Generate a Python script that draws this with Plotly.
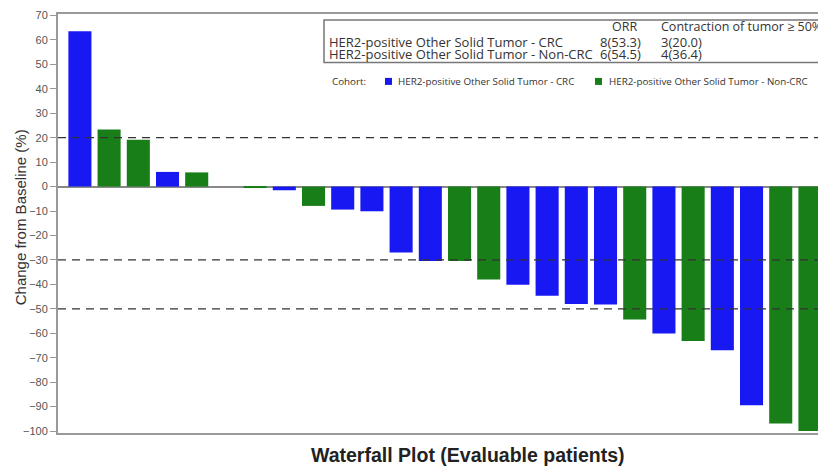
import plotly.graph_objects as go

# Data
values = [63.5, 23.4, 19.2, 6.0, 5.8, 0.0, -0.6, -1.5, -7.9, -9.4, -10.1, -27.0, -30.4,
          -30.4, -38.0, -40.2, -44.7, -48.0, -48.2, -54.4, -60.1, -63.2, -66.9, -89.4,
          -96.9, -100.0]
cohorts = ["CRC", "Non-CRC", "Non-CRC", "CRC", "Non-CRC", "CRC", "Non-CRC", "CRC", "Non-CRC",
           "CRC", "CRC", "CRC", "CRC", "Non-CRC", "Non-CRC", "CRC", "CRC", "CRC", "CRC",
           "Non-CRC", "CRC", "Non-CRC", "CRC", "CRC", "Non-CRC", "Non-CRC"]
series_names = ["HER2-positive Other Solid Tumor - CRC", "HER2-positive Other Solid Tumor - Non-CRC"]
series_keys = ["CRC", "Non-CRC"]
colors = ["#1818F2", "#187E18"]
orr = ["8(53.3)", "6(54.5)"]
contraction = ["3(20.0)", "4(36.4)"]
ref_lines = [20, -30, -50]
yticks = list(range(-100, 71, 10))

fig = go.Figure()
for key, name, col in zip(series_keys, series_names, colors):
    xs = [i for i, c in enumerate(cohorts) if c == key]
    ys = [values[i] for i in xs]
    fig.add_trace(go.Bar(x=xs, y=ys, name=name, marker=dict(color=col, line=dict(width=0)),
                         showlegend=False, width=0.79))

# screen pixel -> paper fraction (plot area spans x 58..826, y 14..433 on screen)
def px_x(p):
    return (p - 58) / 768.0

def px_y(p):
    return (433 - p) / 419.5

shapes = []
for v in ref_lines:
    shapes.append(dict(type="line", xref="paper", yref="y", x0=0, x1=1, y0=v, y1=v,
                       line=dict(color="#333333", width=1.2, dash="8px,6px"), layer="above"))
# table box
shapes.append(dict(type="rect", xref="paper", yref="paper", x0=px_x(324), x1=px_x(823),
                   y0=px_y(62), y1=px_y(19.5), line=dict(color="#777777", width=1.5),
                   fillcolor="white", layer="above"))
# cohort legend squares
for sx, col in zip([385, 595], colors):
    shapes.append(dict(type="rect", xref="paper", yref="paper", x0=px_x(sx), x1=px_x(sx + 7),
                       y0=px_y(84.5), y1=px_y(77.5), line=dict(width=0), fillcolor=col,
                       layer="above"))

tf = dict(family="Open Sans", size=13, color="#333333")
hf = dict(family="Open Sans", size=12.5, color="#333333")
cf = dict(family="Open Sans", size=9.8, color="#333333")
annotations = []
annotations.append(dict(x=px_x(624), y=px_y(26), text="ORR", xanchor="center", font=hf))
annotations.append(dict(x=px_x(659), y=px_y(26), text="Contraction of tumor ≥ 50%",
                        xanchor="left", font=hf))
for row_y, name, o, c in zip([41.5, 53.3], series_names, orr, contraction):
    annotations.append(dict(x=px_x(327), y=px_y(row_y), text=name, xanchor="left", font=tf))
    annotations.append(dict(x=px_x(598), y=px_y(row_y), text=o, xanchor="left", font=tf))
    annotations.append(dict(x=px_x(659), y=px_y(row_y), text=c, xanchor="left", font=tf))
for x, t in zip([330, 396, 607], ["Cohort:", series_names[0], series_names[1]]):
    annotations.append(dict(x=px_x(x), y=px_y(81), text=t, xanchor="left", font=cf))
for a in annotations:
    a.update(xref="paper", yref="paper", yanchor="middle", showarrow=False)
annotations.append(dict(x=px_x(20), y=px_y(217), text="Change from Baseline (%)", textangle=-90,
                        xref="paper", yref="paper", showarrow=False, xanchor="center",
                        yanchor="middle",
                        font=dict(family="Liberation Sans", size=15, color="#333333")))
annotations.append(dict(x=px_x(468), y=px_y(455), text="<b>Waterfall Plot (Evaluable patients)</b>",
                        xref="paper", yref="paper", showarrow=False, xanchor="center",
                        yanchor="middle",
                        font=dict(family="Liberation Sans", size=19.5, color="#222222")))

# page body has an 8px margin, so the figure is 8px smaller and offsets compensate
fig.update_layout(
    width=818, height=458,
    margin=dict(l=50, r=0, t=6, b=33),
    plot_bgcolor="white", paper_bgcolor="white",
    bargap=0.21,
    shapes=shapes, annotations=annotations,
    xaxis=dict(range=[-0.75, 25.55], showticklabels=False, ticks="", showgrid=False,
               zeroline=False, showline=True, linecolor="#999999", linewidth=2, mirror=True),
    yaxis=dict(range=[-100.8, 70.6], tickvals=yticks, ticks="outside", ticklen=6,
               tickcolor="#999999", tickwidth=1.2, showgrid=False, zeroline=True,
               zerolinecolor="#888888", zerolinewidth=1.5, showline=True,
               linecolor="#999999", linewidth=2,
               tickfont=dict(family="Liberation Sans", size=11, color="#555555")),
)

fig.write_html("out.html")
